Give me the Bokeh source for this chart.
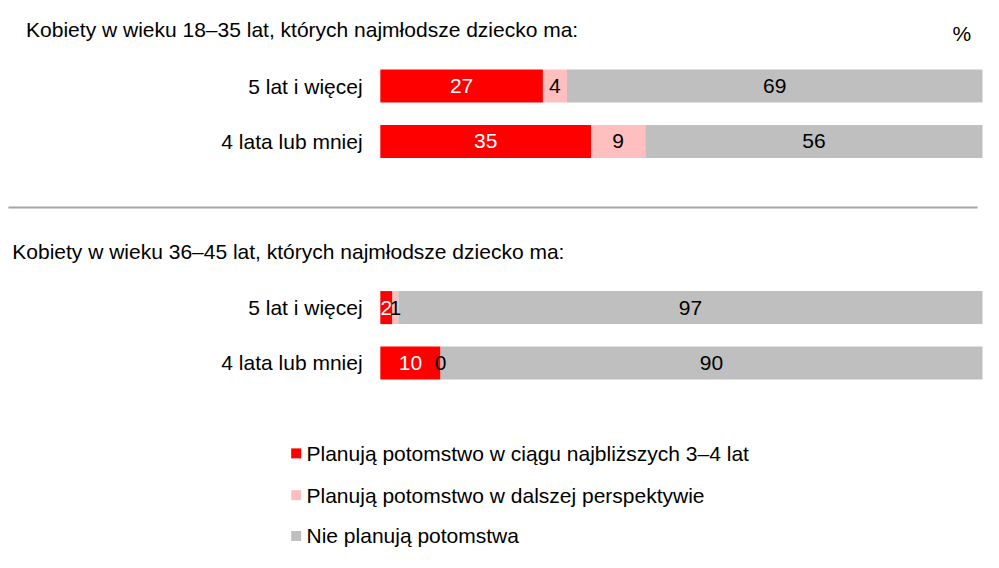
from bokeh.plotting import figure
from bokeh.models import Range1d, ColumnDataSource
from bokeh.core.properties import value
from bokeh.embed import file_html
from bokeh.resources import INLINE

# ---- data ----
group_titles = ["Kobiety w wieku 18–35 lat, których najmłodsze dziecko ma:",
                "Kobiety w wieku 36–45 lat, których najmłodsze dziecko ma:"]
row_labels = ["5 lat i więcej", "4 lata lub mniej", "5 lat i więcej", "4 lata lub mniej"]
series_names = ["Planują potomstwo w ciągu najbliższych 3–4 lat",
                "Planują potomstwo w dalszej perspektywie",
                "Nie planują potomstwa"]
near_term = [27, 35, 2, 10]
later = [4, 9, 1, 0]
not_planning = [69, 56, 97, 90]
series_values = [near_term, later, not_planning]
colors = ["#FF0000", "#FFBFBF", "#BFBFBF"]
label_colors = ["white", "black", "black"]

# ---- layout (reference-pixel based) ----
X0, K = 386.0, 6.12          # pixel of 0 %, pixels per %
def dx(px):
    return (px - X0) / K

row_y = [88, 145, 316, 373]
bar_h = 34
title_pos = [(26, 30), (12, 258)]
legend_y = [466, 509, 551]
FONT = value("Liberation Sans")
FS = "21px"

p = figure(width=983, height=552, output_backend="svg", toolbar_location=None,
           x_range=Range1d(dx(0), dx(999)), y_range=Range1d(568, 0),
           min_border=0)
p.axis.visible = False
p.grid.visible = False
p.outline_line_color = None
p.background_fill_color = "white"
p.border_fill_color = "white"

# stacked bars
left = [0] * len(row_y)
sources = []
for vals, col in zip(series_values, colors):
    right = [l + v for l, v in zip(left, vals)]
    src = ColumnDataSource(dict(y=row_y, left=left, right=right,
                                mid=[(l + r) / 2 for l, r in zip(left, right)],
                                txt=[str(v) for v in vals]))
    p.hbar(y="y", left="left", right="right", height=bar_h, color=col, source=src,
           line_color=None)
    sources.append(src)
    left = right

# value labels drawn above all bars
for src, lcol in zip(sources, label_colors):
    p.text(x="mid", y="y", text="txt", source=src, text_color=lcol,
           text_align="center", text_baseline="middle", text_font=FONT,
           text_font_size=FS)

# row labels
p.text(x=[dx(368)] * 4, y=row_y, text=row_labels, text_align="right",
       text_baseline="middle", text_font=FONT, text_font_size=FS,
       text_color="black")

# group titles
for t, (tx, ty) in zip(group_titles, title_pos):
    p.text(x=[dx(tx)], y=[ty], text=[t], text_align="left", text_baseline="middle",
           text_font=FONT, text_font_size=FS, text_color="black")

# percent sign
p.text(x=[dx(977)], y=[34], text=["%"], text_align="center", text_baseline="middle",
       text_font=FONT, text_font_size=FS, text_color="black")

# separator
p.segment(x0=[dx(8)], x1=[dx(993)], y0=[213], y1=[213], line_color="#A6A6A6",
          line_width=2)

# legend
p.scatter(x=[dx(300.5)] * 3, y=legend_y, marker="square", size=10, color=colors,
          line_color=None)
p.text(x=[dx(311)] * 3, y=legend_y, text=series_names, text_align="left",
       text_baseline="middle", text_font=FONT, text_font_size=FS,
       text_color="black")

open("out.html", "w").write(file_html(p, INLINE))
